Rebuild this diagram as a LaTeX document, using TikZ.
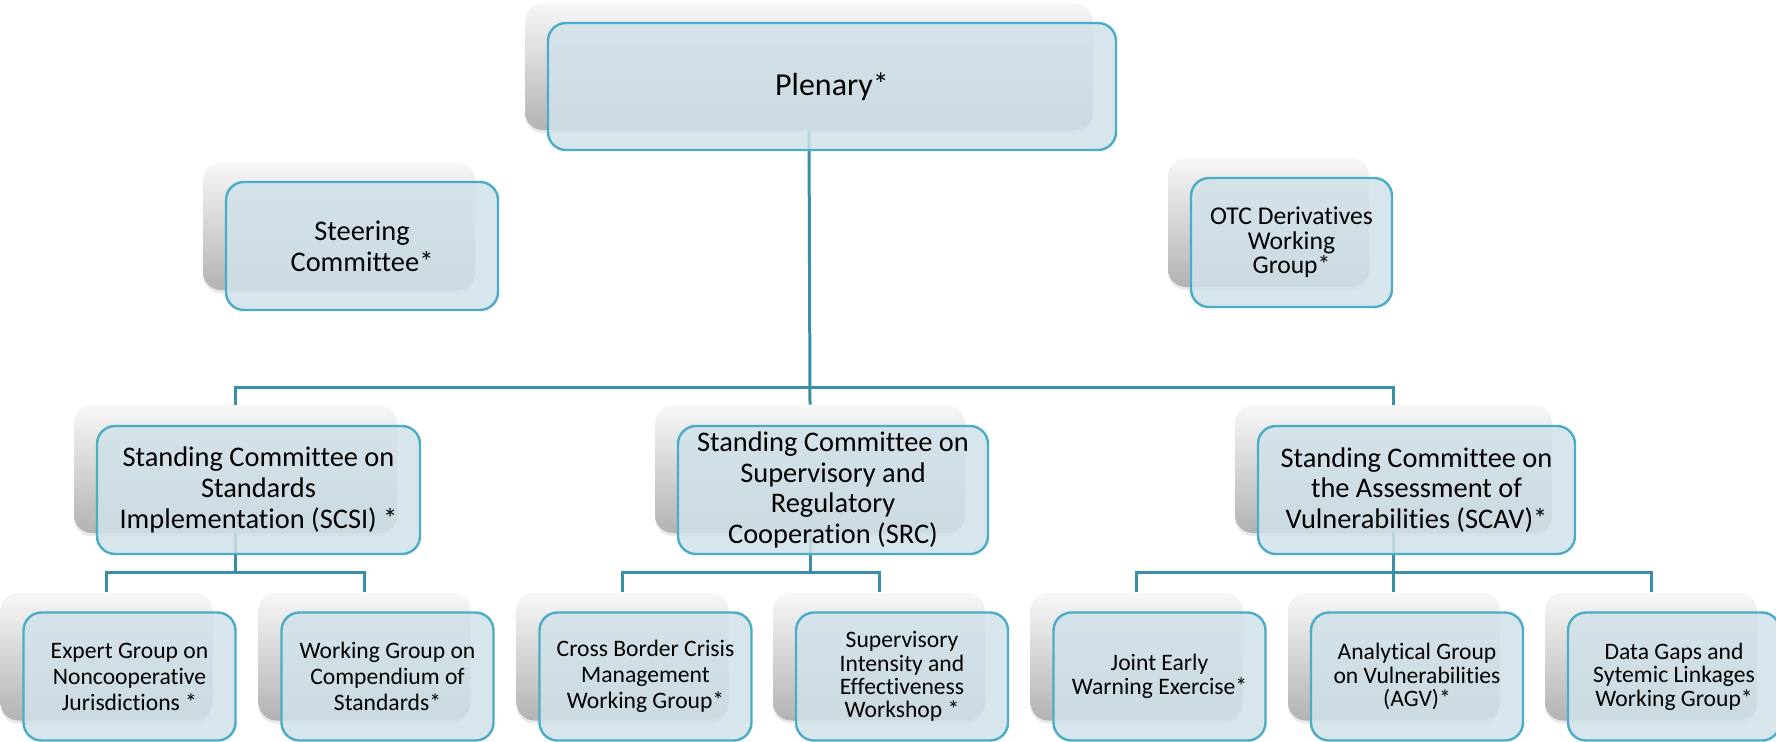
\documentclass[tikz,border=0pt]{standalone}
\usepackage{fontspec}
\setmainfont{Carlito}[Ligatures=CommonOff]
\usepackage{tikz}
\usetikzlibrary{positioning,calc,shadows,backgrounds}
\definecolor{linkblue}{RGB}{58,142,165}
\definecolor{boxline}{RGB}{75,172,198}
\definecolor{boxfill}{RGB}{208,226,233}
\newcommand{\plenfont}{\fontsize{16}{18}\selectfont}
\newcommand{\midfont}{\fontsize{14.2}{15.4}\selectfont}
\newcommand{\otcfont}{\fontsize{12.8}{12.3}\selectfont}
\newcommand{\leaffont}{\fontsize{11.8}{13}\selectfont}
\newcommand{\tightfont}{\fontsize{11.8}{11.7}\selectfont}

\tikzset{
  back/.style={rectangle, rounded corners=9pt, draw=none,
    top color=black!3, middle color=black!8, bottom color=black!30,
    drop shadow={opacity=0.18, shadow xshift=0pt, shadow yshift=-1.5pt}},
  front/.style={rectangle, rounded corners=9pt, draw=boxline, line width=1.2pt,
    fill=boxfill, fill opacity=0.85, text opacity=1, align=center, inner sep=2pt},
  conn/.style={draw=linkblue, line width=1.5pt},
  plensize/.style={minimum width=284pt, minimum height=63.5pt},
  steersize/.style={minimum width=136pt, minimum height=64pt},
  otcsize/.style={minimum width=100.5pt, minimum height=64.5pt},
  leafsize/.style={minimum width=106pt, minimum height=64pt}
}

\begin{document}
\begin{tikzpicture}[x=0.5pt, y=-0.5pt]
\useasboundingbox (0,0) rectangle (1776,741);
% nodes
\node[back, plensize] (plen) at (809,66.5) {};
\node[front, plensize, font=\plenfont] (plen-t) at ([shift={(23,20)}]plen.center) {Plenary*};
\node[back, steersize] (steer) at (339,226) {};
\node[front, steersize, font=\midfont] (steer-t) at ([shift={(23,20)}]steer.center) {Steering\\Committee*};
\node[back, otcsize] (otc) at (1268.5,222.5) {};
\node[front, otcsize, font=\otcfont] (otc-t) at ([shift={(23,20)}]otc.center) {OTC Derivatives\\Working\\Group*};

% standing committees
\node[back, minimum width=161.5pt, minimum height=64pt] (scsi) at (235.5,469) {};
\node[front, minimum width=161.5pt, minimum height=64pt, font=\midfont] (scsi-t) at ([shift={(23,21)}]scsi.center) {Standing Committee on\\Standards\\Implementation (SCSI) *};
\node[back, minimum width=155pt, minimum height=64pt] (src) at (810,469) {};
\node[front, minimum width=155pt, minimum height=64pt, font=\midfont] (src-t) at ([shift={(23,21)}]src.center) {Standing Committee on\\Supervisory and\\Regulatory\\Cooperation (SRC)};
\node[back, minimum width=158.5pt, minimum height=64pt] (scav) at (1393.5,469) {};
\node[front, minimum width=158.5pt, minimum height=64pt, font=\midfont] (scav-t) at ([shift={(23,21)}]scav.center) {Standing Committee on\\the Assessment of\\Vulnerabilities (SCAV)*};

% groups
\node[back, leafsize] (ncj) at (106.5,656.5) {};
\node[front, leafsize, font=\leaffont] (ncj-t) at ([shift={(23,20)}]ncj.center) {Expert Group on\\Noncooperative\\Jurisdictions *};
\node[back, leafsize] (cos) at (364.5,656.5) {};
\node[front, leafsize, font=\leaffont] (cos-t) at ([shift={(23,20)}]cos.center) {Working Group on\\Compendium of\\Standards*};
\node[back, leafsize] (cbcm) at (622.5,656.5) {};
\node[front, leafsize, font=\leaffont] (cbcm-t) at ([shift={(23,20)}]cbcm.center) {Cross Border Crisis\\Management\\Working Group*};
\node[back, leafsize] (siew) at (879,656.5) {};
\node[front, leafsize, font=\tightfont] (siew-t) at ([shift={(23,20)}]siew.center) {Supervisory\\Intensity and\\Effectiveness\\Workshop *};
\node[back, leafsize] (jewe) at (1136.5,656.5) {};
\node[front, leafsize, font=\tightfont] (jewe-t) at ([shift={(23,20)}]jewe.center) {Joint Early\\Warning Exercise*};
\node[back, leafsize] (agv) at (1394,656.5) {};
\node[front, leafsize, font=\tightfont] (agv-t) at ([shift={(23,20)}]agv.center) {Analytical Group\\on Vulnerabilities\\(AGV)*};
\node[back, leafsize] (dgsl) at (1651,656.5) {};
\node[front, leafsize, font=\tightfont] (dgsl-t) at ([shift={(23,20)}]dgsl.center) {Data Gaps and\\Sytemic Linkages\\Working Group*};

% edges
\coordinate (bus1) at (0,387);
\coordinate (bus2) at (0,572);
\begin{scope}[on background layer]
 \draw[conn] (plen.south) -- (src.north);
 \draw[conn] (scsi.north) |- (bus1 -| plen) -| (scav.north);
 \draw[conn] (scsi.south) -- (bus2 -| scsi);
 \draw[conn] (ncj.north) |- (bus2 -| scsi) -| (cos.north);
 \draw[conn] (src.south) -- (bus2 -| src);
 \draw[conn] (cbcm.north) |- (bus2 -| src) -| (siew.north);
 \draw[conn] (scav.south) -- (scav.south |- agv.north);
 \draw[conn] (jewe.north) |- (bus2 -| scav) -| (dgsl.north);
\end{scope}
\end{tikzpicture}
\end{document}
